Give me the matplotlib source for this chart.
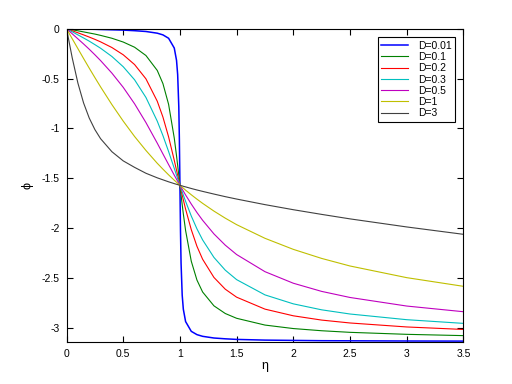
import matplotlib
matplotlib.use('Agg')
import matplotlib.pyplot as plt

plt.rcParams['font.family'] = ['Liberation Sans', 'DejaVu Sans']
plt.rcParams['font.size'] = 7.5
plt.rcParams['axes.unicode_minus'] = False

# eta values (shared by all curves)
eta = [0, 0.05, 0.1, 0.15, 0.2, 0.25, 0.3, 0.4, 0.5, 0.6, 0.7, 0.8, 0.85, 0.9, 0.95,
       0.97, 0.98, 0.99, 0.995, 1.0, 1.005, 1.01, 1.02, 1.03, 1.05, 1.1, 1.15, 1.2,
       1.3, 1.4, 1.5, 1.75, 2.0, 2.25, 2.5, 3.0, 3.5]

# phase for each damping value
phi_001 = [0, -0.001, -0.002, -0.003, -0.004, -0.005, -0.007, -0.010, -0.013, -0.019, -0.027,
           -0.044, -0.061, -0.095, -0.193, -0.317, -0.460, -0.783, -1.106, -1.571, -2.034,
           -2.354, -2.674, -2.815, -2.939, -3.037, -3.070, -3.087, -3.104, -3.112, -3.118,
           -3.125, -3.128, -3.131, -3.132, -3.134, -3.135]
phi_01 = [0, -0.010, -0.020, -0.031, -0.042, -0.053, -0.066, -0.095, -0.133, -0.185, -0.268,
          -0.418, -0.550, -0.758, -1.097, -1.275, -1.371, -1.471, -1.521, -1.571, -1.621,
          -1.670, -1.766, -1.858, -2.025, -2.333, -2.522, -2.642, -2.781, -2.858, -2.906,
          -2.974, -3.009, -3.031, -3.047, -3.067, -3.080]
phi_02 = [0, -0.020, -0.040, -0.061, -0.083, -0.106, -0.131, -0.188, -0.261, -0.359, -0.502,
          -0.727, -0.886, -1.085, -1.320, -1.420, -1.470, -1.521, -1.546, -1.571, -1.596,
          -1.621, -1.670, -1.717, -1.810, -2.016, -2.183, -2.313, -2.496, -2.614, -2.694,
          -2.814, -2.881, -2.924, -2.953, -2.993, -3.018]
phi_03 = [0, -0.030, -0.061, -0.092, -0.124, -0.159, -0.195, -0.278, -0.381, -0.512, -0.689,
          -0.927, -1.072, -1.232, -1.401, -1.470, -1.504, -1.537, -1.554, -1.571, -1.587,
          -1.604, -1.637, -1.669, -1.732, -1.879, -2.008, -2.119, -2.295, -2.423, -2.518,
          -2.671, -2.761, -2.821, -2.863, -2.920, -2.957]
phi_05 = [0, -0.050, -0.101, -0.152, -0.205, -0.261, -0.319, -0.445, -0.588, -0.753, -0.941,
          -1.148, -1.256, -1.363, -1.469, -1.510, -1.530, -1.551, -1.561, -1.571, -1.581,
          -1.591, -1.610, -1.630, -1.668, -1.759, -1.844, -1.922, -2.059, -2.172, -2.266,
          -2.438, -2.554, -2.636, -2.697, -2.783, -2.840]
phi_1 = [0, -0.100, -0.199, -0.298, -0.395, -0.490, -0.583, -0.761, -0.927, -1.081, -1.221,
         -1.350, -1.409, -1.466, -1.520, -1.540, -1.551, -1.561, -1.566, -1.571, -1.576,
         -1.581, -1.591, -1.600, -1.620, -1.666, -1.710, -1.752, -1.830, -1.901, -1.966,
         -2.103, -2.214, -2.305, -2.381, -2.498, -2.585]
phi_3 = [0, -0.292, -0.545, -0.744, -0.896, -1.012, -1.103, -1.234, -1.326, -1.391, -1.450,
         -1.496, -1.516, -1.536, -1.554, -1.561, -1.564, -1.568, -1.569, -1.571, -1.573,
         -1.574, -1.577, -1.581, -1.587, -1.603, -1.618, -1.632, -1.659, -1.685, -1.709,
         -1.765, -1.816, -1.863, -1.908, -1.989, -2.063]

labels = ['D=0.01', 'D=0.1', 'D=0.2', 'D=0.3', 'D=0.5', 'D=1', 'D=3']
series = [phi_001, phi_01, phi_02, phi_03, phi_05, phi_1, phi_3]
colors = ['#0000ff', '#008000', '#ff0000', '#00bfbf', '#bf00bf', '#bfbf00', '#404040']

fig = plt.figure(figsize=(5.12, 3.84), dpi=100)
ax = fig.add_axes([0.13, 0.11, 0.775, 0.815])

for ys, lab, c in zip(series, labels, colors):
    lw = 1.1 if lab == 'D=0.01' else 0.8
    ax.plot(eta, ys, color=c, lw=lw, label=lab)

ax.set_xlim(0, 3.5)
ax.set_ylim(-3.14159, 0)
ax.set_xticks([0, 0.5, 1, 1.5, 2, 2.5, 3, 3.5])
ax.set_xticklabels(['0', '0.5', '1', '1.5', '2', '2.5', '3', '3.5'])
ax.set_yticks([0, -0.5, -1, -1.5, -2, -2.5, -3])
ax.set_yticklabels(['0', '-0.5', '-1', '-1.5', '-2', '-2.5', '-3'])
ax.tick_params(direction='in', top=True, right=True, length=4, width=0.8, pad=5)
for s in ax.spines.values():
    s.set_linewidth(0.8)

ax.set_xlabel('η', fontsize=9, labelpad=1)
ax.set_ylabel('ϕ', fontsize=9, labelpad=6)

leg = ax.legend(loc='upper right', fancybox=False, framealpha=1, edgecolor='black',
                handlelength=2.6, borderpad=0.35, labelspacing=0.12, handletextpad=0.9,
                borderaxespad=0.8)
leg.get_frame().set_linewidth(0.8)

fig.savefig('out.png', dpi=100)
